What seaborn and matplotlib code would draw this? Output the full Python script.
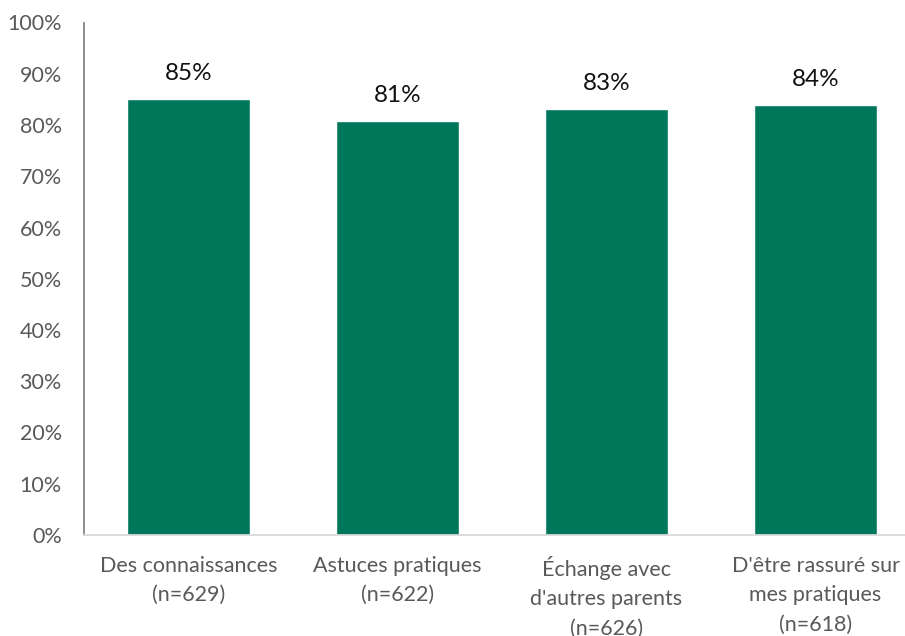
import matplotlib
matplotlib.use("Agg")
import matplotlib.pyplot as plt
import seaborn as sns
import pandas as pd

categories = ["Des connaissances\n(n=629)", "Astuces pratiques\n(n=622)",
              "Échange avec\nd'autres parents\n(n=626)", "D'être rassuré sur\nmes pratiques\n(n=618)"]
values = [85.1, 80.7, 83.1, 83.9]
labels = ["85%", "81%", "83%", "84%"]
yticks = [0, 10, 20, 30, 40, 50, 60, 70, 80, 90, 100]
ytick_labels = [f"{t}%" for t in yticks]

sns.set_theme(style="white")
plt.rcParams['font.family'] = ['Lato', 'DejaVu Sans']

df = pd.DataFrame({"cat": categories, "val": values})

fig = plt.figure(figsize=(9.05, 6.36), dpi=100)
ax = fig.add_axes([84/905, 101/636, (920-84)/905, 512.5/636])
sns.barplot(data=df, x="cat", y="val", color="#00775A", width=0.59, ax=ax, saturation=1)
ax.set_xlim(-0.5, 3.5)
ax.set_ylim(0, 100)
ax.set_yticks(yticks)
ax.set_yticklabels(ytick_labels)
ax.set_xlabel("")
ax.set_ylabel("")
ax.tick_params(axis="y", colors="#595959", labelsize=15.5, length=0, pad=16)
ax.tick_params(axis="x", colors="#595959", labelsize=15.5, length=0, pad=15)
for lbl in ax.get_xticklabels():
    lbl.set_linespacing(1.58)
for s in ["top", "right"]:
    ax.spines[s].set_visible(False)
ax.spines["left"].set_color("#868686")
ax.spines["left"].set_linewidth(1.3)
ax.spines["bottom"].set_color("#D9D9D9")
ax.spines["bottom"].set_linewidth(1.3)

for i, (v, l) in enumerate(zip(values, labels)):
    ax.annotate(l, (i, v), xytext=(0, 11), textcoords="offset points",
                ha="center", va="bottom", fontsize=17.5, color="#111111")

fig.savefig("out.png", dpi=100)
